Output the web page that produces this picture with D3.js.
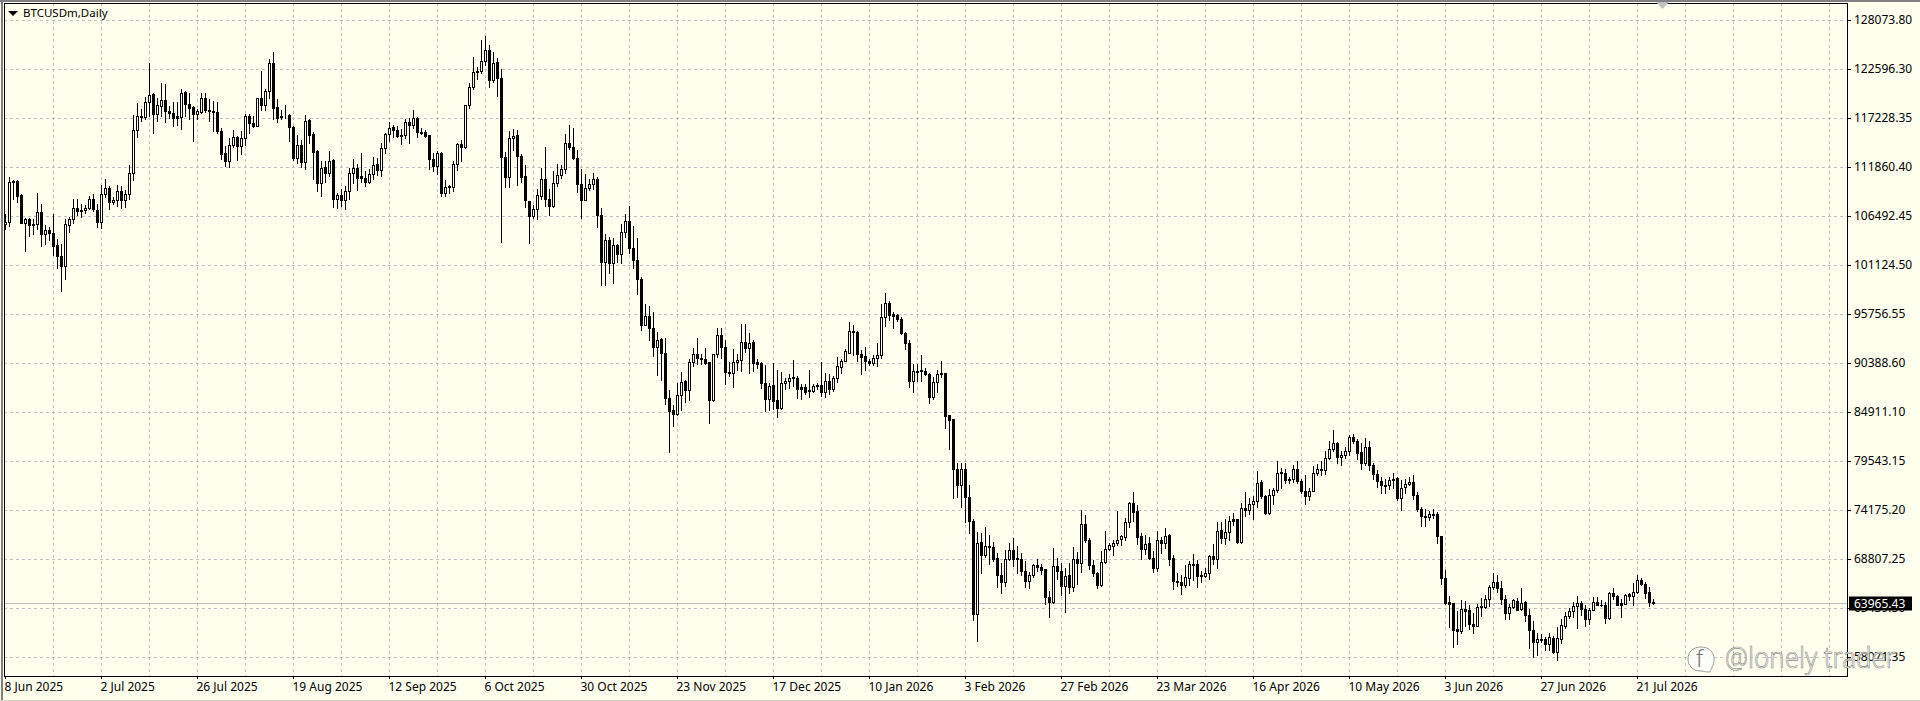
<!DOCTYPE html>
<html><head><meta charset="utf-8">
<script src="https://cdn.jsdelivr.net/npm/d3@7"></script>
<style>html,body{margin:0;padding:0;background:#ffffee;overflow:hidden}svg{display:block}text{font-family:"Noto Sans",sans-serif}</style>
</head><body><svg id="c" width="1920" height="701"></svg>
<script>
const symbolTitle = "BTCUSDm,Daily";
const priceTicks = [128073.80,122596.30,117228.35,111860.40,106492.45,101124.50,95756.55,90388.60,84911.10,79543.15,74175.20,68807.25,63439.30,58071.35];
const dateLabels = ["8 Jun 2025","2 Jul 2025","26 Jul 2025","19 Aug 2025","12 Sep 2025","6 Oct 2025","30 Oct 2025","23 Nov 2025","17 Dec 2025","10 Jan 2026","3 Feb 2026","27 Feb 2026","23 Mar 2026","16 Apr 2026","10 May 2026","3 Jun 2026","27 Jun 2026","21 Jul 2026"];
const lastPrice = 63965.43;
const opens = [105578,105797,110252,110252,108719,105724,106162,105615,105578,106929,
104483,104921,104629,103241,102109,100977,105505,106162,107331,107148,
107112,107331,108354,107148,105797,108901,109559,107988,108244,109230,
108244,108901,111202,115913,117447,117301,118908,119784,117593,118470,
119200,117995,117776,117338,117265,120004,118762,118360,117630,117849,
119419,118104,117995,117885,115804,113320,112444,114197,115146,114124,
115037,117447,116680,116315,119310,118652,120077,123254,118324,117446,
117373,117519,116241,112808,114269,112370,116935,115401,113539,110106,
111786,111165,112553,108353,108791,108243,109193,111201,111749,110800,
110654,110179,111092,112114,111494,113940,115474,116168,115912,115365,
115292,116789,116424,117154,115693,115693,115292,112735,111932,113320,
108974,109668,109668,112187,114342,114013,118578,120624,122340,122340,
123436,124677,121354,123290,121610,112954,110727,114999,115292,113064,
110800,108134,106454,107184,108645,110544,108353,107549,110106,110947,
111641,114489,114051,112846,109997,108244,109523,109961,110545,106601,
101415,103862,101306,103314,102292,104739,105944,102986,101671,99589,
94513,95536,94221,92103,92943,91482,86476,85023,84655,86811,
88302,87333,90496,91372,90934,90824,90423,86215,91372,93454,
92139,89382,89233,90496,90715,92687,92030,92614,90423,90314,
88152,86327,87854,86178,85321,88152,88376,88748,88637,87594,
87594,87296,87221,87892,87929,87109,88339,87407,88711,89941,
90607,91483,93894,93784,91374,91081,90607,90351,90899,91264,
95427,96961,95683,95573,95208,93674,92579,88338,89494,89531,
89494,89158,86513,88264,89195,89195,84473,84071,78666,76840,
78666,75598,72969,62744,70595,69207,70230,70121,68843,67053,
66249,68769,69792,68843,68806,67491,66358,66980,68075,67930,
67638,64643,64058,68039,67491,65811,66980,65701,68806,68367,
72641,70887,68148,67272,65921,68440,69902,70157,70486,70960,
71179,72823,74868,73991,71252,69865,70486,68915,67783,70887,
70486,71362,68842,66395,66286,65921,66724,68258,68185,66980,
66870,67235,69061,68769,71910,71033,71727,73115,73115,70668,
74393,74138,74795,75160,77169,75708,73772,75817,76365,78301,
78228,77534,77497,78666,77351,76256,75671,76219,78191,78666,
78520,79871,80857,81442,79944,80163,80638,82172,81734,80456,
79250,81076,79031,78118,77351,76913,76840,77570,77643,75452,
76657,76986,77242,75817,74284,73517,73371,73736,73663,71326,
66724,64095,63912,61063,60844,63328,63145,61684,61429,63583,
63510,64350,65701,66286,65628,64423,62853,63510,64204,63255,
64022,62670,61027,59676,60041,59968,59457,60150,58580,60004,
61429,62524,63072,63620,63985,63255,62196,63218,64095,63766,
63766,62269,65008,64752,63912,63875,64898,64752,65154,66505,
66067,65117,64095];
const closes = [105834,110216,110179,108646,105688,106162,105469,105469,106929,104483,
104921,104592,103168,102072,100977,105542,106162,107331,106966,107002,
107331,108354,107185,105797,108901,109559,107988,108244,109230,108244,
108901,111202,115913,117447,117301,118981,119748,117593,118543,119200,
117958,117739,117228,117191,119967,118689,118287,117630,117922,119419,
118068,117958,117849,115731,113247,112444,114270,115146,114124,115037,
117447,116680,116315,119310,118652,120077,123254,118287,117228,117264,
117446,116205,112772,114269,112370,116899,115328,113466,110106,111749,
111128,112516,108353,108791,108207,109193,111201,111749,110617,110617,
110179,111092,112041,111457,113940,115474,116132,115876,115219,115219,
116789,116424,117154,115657,115584,115219,112662,111932,113320,108937,
109668,109741,112187,114379,114013,118651,120624,122267,122230,123436,
124677,121354,123253,121573,112918,110727,115036,115255,113027,110690,
108170,106454,107257,108718,110544,108353,107549,110106,110982,111641,
114489,114015,112846,109961,108244,109559,109961,110545,106565,101415,
103862,101306,103314,102292,104739,105944,102949,101634,99553,94513,
95536,94184,92103,92906,91445,86401,84985,84655,86811,88264,
87333,90496,91372,90861,90824,90351,86215,91372,93454,92103,
89345,89233,90496,90715,92687,91957,92577,90351,90276,88115,
86327,87817,86140,85321,88152,88376,88711,88637,87445,87445,
87109,87147,87817,87817,87109,88339,87407,88711,90052,90607,
91629,93894,93747,91337,90972,90570,90351,90935,91264,95427,
96961,95573,95500,95135,93601,92579,88338,89419,89382,89456,
89084,86513,88264,89158,89121,84436,83998,78593,76840,78666,
75562,72933,62707,70559,69207,70230,70084,68806,66980,66249,
68806,69792,68806,68769,67419,66358,66980,68075,67930,67565,
64606,64058,68039,67491,65811,66907,65701,68806,68367,72641,
70851,68148,67272,65921,68440,69902,70267,70559,70887,71252,
72859,74868,73918,71179,69865,70449,68879,67783,70887,70522,
71326,68806,66359,66249,65921,66761,68258,68112,66870,66907,
67272,69061,68769,71873,71033,71764,72969,72932,70668,74393,
74138,74831,75160,77132,75635,73772,75817,76365,78228,78228,
77424,77388,78666,77278,76219,75635,76219,78228,78630,78520,
79871,80857,81442,79944,80200,80638,82172,81697,80382,79250,
81076,79031,78082,77315,76877,76803,77461,77461,75416,76584,
76986,77242,75781,74211,73480,73371,73736,73590,71289,66687,
63985,63839,60990,60844,63328,63072,61648,61429,63547,63510,
64423,65738,66249,65592,64350,62853,63547,64241,63218,63985,
62634,60990,59676,60041,59895,59457,60260,58580,60077,61538,
62524,63109,63656,63985,63255,62232,63218,64095,63729,63693,
62305,65008,64715,63729,63766,64825,64752,65154,66505,66030,
65081,64058,63965.43];
const highs = [106640,110764,110399,110400,108828,106235,106272,106162,109011,107806,
105432,105286,106637,103971,103350,106162,106382,108281,108354,107806,
107623,108646,108828,107733,109814,110545,109741,108500,109814,109741,
109303,112079,117484,118871,118141,119492,123254,119967,119419,120990,
120880,118506,118944,118944,120332,120150,119967,118506,118214,119894,
119894,119237,119054,118944,116059,114124,114964,115840,115219,115731,
117666,117666,117411,119310,122341,120332,123692,124496,119237,118031,
118578,117592,116314,115292,114780,117483,117118,115657,113685,112443,
112516,113539,112662,109010,109448,109741,111749,112662,112151,113393,
111347,111567,112954,112845,114415,115510,116752,116387,116314,115949,
117045,117227,118031,117337,116132,115876,115365,113393,113575,113466,
110398,109887,112516,114488,114780,118651,121062,123910,122815,125809,
126248,125262,124422,123801,122523,113466,115766,116022,115876,113210,
112005,108134,107622,109448,111749,114050,109375,111384,112151,111970,
115475,116388,116060,113649,111641,111093,110545,111203,110764,107295,
104519,104154,104081,103351,105542,106711,107514,105323,104081,99808,
96777,96631,95974,93783,93125,93125,87370,85656,88152,89308,
88488,90751,92030,93125,91299,92030,90496,91372,94221,94148,
92833,90423,91847,91372,94659,94586,93673,92833,90751,90460,
90127,88152,90388,89531,89382,88637,89084,90642,88935,88041,
88041,89606,87966,88115,90423,89270,89084,88898,91045,90826,
91848,94880,94478,93857,91775,92067,90826,91191,92506,96779,
97984,97180,95939,95719,95427,93747,92871,90239,90239,91191,
89792,89270,88823,89531,90534,89270,84582,84144,79324,79324,
79324,76913,73188,71728,71655,72239,71435,70632,69463,68367,
69755,70559,71070,70157,69463,68514,67345,68221,68733,68221,
67711,65263,70011,68915,68367,67783,68294,70121,69536,74138,
73626,71107,68660,67345,69609,71801,70559,70851,74028,71362,
73261,75014,76073,74722,71654,71362,71143,69609,71800,71143,
72129,71472,69171,67272,66980,68075,68587,69353,68623,67454,
67783,69171,70376,72823,72823,73188,73480,73845,73188,74941,
76146,75489,75671,78374,77424,75744,76475,76584,79543,78776,
78593,77790,79031,79543,77570,77936,76584,78958,79141,79469,
80602,81734,82866,81588,80602,81076,82391,82428,81880,81515,
82062,81734,79250,78520,77790,77497,77790,78155,77790,77424,
77497,77790,78009,76110,74503,74211,74028,74211,73918,71326,
67527,64715,63985,63072,64277,64168,63729,62889,63802,64460,
64788,65884,67272,66980,66395,64788,63802,64423,64533,65628,
64168,63255,61940,60698,60552,60260,60698,60333,61356,62159,
62962,63437,64058,64715,64168,63693,63437,64642,64569,64277,
64095,65154,65628,64861,64423,64898,65081,66176,66980,66687,
66249,65738,64350];
const lows = [104994,105359,108281,107988,105688,102620,104263,104446,104994,103168,
103350,103789,102145,100757,98238,99516,104702,105724,106528,106345,
106747,107185,107002,105213,105140,108573,107185,107733,107550,107368,
107441,108281,110399,115146,116899,117045,117338,115512,116863,117338,
116753,117228,116315,116425,115950,117411,117118,114672,117118,117703,
117849,116863,115767,115512,112663,111933,111859,114051,112590,113211,
114197,115585,116169,116315,118068,118068,119419,117118,116753,117118,
117227,114671,112553,112224,111859,111640,114488,110471,109156,108645,
110179,110836,107403,107330,107549,107184,108280,110106,109302,110179,
109741,110106,110544,110909,110836,113320,114671,115146,115109,114306,
115036,114488,116095,115146,115401,115146,111567,111384,111019,108645,
108645,109010,109193,111494,112480,113940,118286,120404,121427,122084,
122961,120624,121135,119601,103605,109595,109595,113685,109814,110179,
107403,103532,106271,106089,108280,107549,106527,107440,109741,110655,
111166,113832,112736,109084,106199,108171,109267,109450,105250,98895,
98895,100210,99114,101415,101306,104191,102401,100721,97873,93929,
94513,92833,91080,89009,88413,85805,80455,83304,84509,85060,
85954,86178,90015,90202,90276,90276,83669,86103,91007,90861,
87966,88860,87668,89531,89457,91518,89233,89457,89755,87519,
84985,85134,85172,84326,85172,87407,87519,87780,86401,86327,
86849,86551,87072,87371,86662,86551,86849,87221,88227,89270,
90534,91410,91264,90570,89121,89568,90164,90164,89978,90899,
94405,95062,94186,94916,93492,91848,87631,87109,88301,88301,
88972,85842,86289,87109,88748,83122,80784,75416,75525,74430,
72823,71582,62086,59785,67198,69025,68185,68550,65665,65008,
65811,68660,68003,67272,67053,65738,65592,66834,67418,67090,
63839,62415,63912,66542,64862,62962,65081,65227,65994,67345,
70632,67637,66907,65592,65811,68294,69756,69171,70339,70266,
70851,72239,72932,70376,68733,69317,68733,67345,67418,69463,
70011,68075,65482,65811,64935,65701,65884,66468,65665,66249,
66761,66541,68221,67746,70559,70376,70851,72458,70486,70559,
73480,73663,73188,74503,75452,73699,73663,74758,76110,76584,
77132,77059,77205,77132,76037,74795,75233,76183,78009,77936,
78045,79762,80602,79323,79068,79871,80127,81515,79762,78593,
79104,78520,77497,76621,75964,75964,76402,76584,75233,74138,
75964,76840,75379,73991,72385,72385,73005,73225,70486,65994,
63875,61283,59091,59420,60625,61429,61063,60625,61429,62524,
63401,63620,65446,65154,63875,62232,62232,63437,63182,63182,
61976,59018,58069,58215,59676,58799,58799,58507,57704,59530,
61209,62305,62378,61173,62597,61429,61611,63145,63693,63620,
61721,62159,64350,63693,62378,63802,64277,63693,65008,65921,
64533,63620,63802];

const svg = d3.select("#c");
const W = 1920, H = 701, L = 4, R = 1847, T = 3, B = 676;
const BG = "#ffffee", GRID = "#c0c0c0", FONT = '"Noto Sans",sans-serif';
const x = d3.scaleLinear().domain([0, 412]).range([5, 5 + 412 * 4]);
const y = d3.scaleLinear().domain(priceTicks).range(priceTicks.map((_, i) => 20 + 49 * i));
const px = p => Math.floor(y(p)) + 0.5;
const cx = i => x(i) + 0.5;

svg.append("rect").attr("width", W).attr("height", H).attr("fill", BG);
svg.append("rect").attr("width", W).attr("height", 2).attr("fill", "#808080");
svg.append("rect").attr("x", 1).attr("width", 2).attr("height", H).attr("fill", "#808080");
svg.append("rect").attr("y", H - 1).attr("width", W).attr("height", 1).attr("fill", "#d4d0c8");

// grid
const gridStyle = s => s.attr("stroke", GRID).attr("stroke-width", 1).attr("stroke-dasharray", "3 3");
svg.append("g").selectAll("line").data(priceTicks).join("line")
  .attr("x1", L).attr("x2", R).attr("y1", d => y(d) + .5).attr("y2", d => y(d) + .5).call(gridStyle);
svg.append("g").selectAll("line").data(d3.range(12, 457, 12)).join("line")
  .attr("y1", T).attr("y2", B).attr("x1", cx).attr("x2", cx).call(gridStyle);

// last price line
svg.append("line").attr("x1", L).attr("x2", R).attr("y1", px(lastPrice)).attr("y2", px(lastPrice))
  .attr("stroke", GRID).attr("stroke-width", 1);

// candles
const candles = svg.append("g").selectAll("g").data(d3.range(opens.length)).join("g");
candles.append("line").attr("x1", cx).attr("x2", cx)
  .attr("y1", i => Math.floor(y(highs[i]))).attr("y2", i => Math.floor(y(lows[i])) + 1)
  .attr("stroke", "#000").attr("stroke-width", 1);
candles.filter(i => closes[i] < opens[i]).append("rect")
  .attr("x", i => cx(i) - 1.5).attr("width", 3)
  .attr("y", i => Math.floor(y(opens[i])))
  .attr("height", i => Math.floor(y(closes[i])) - Math.floor(y(opens[i])) + 1)
  .attr("fill", "#000");
candles.filter(i => closes[i] >= opens[i]).append("rect")
  .attr("x", i => cx(i) - 1).attr("width", 2)
  .attr("y", i => px(closes[i]))
  .attr("height", i => Math.max(0, px(opens[i]) - px(closes[i])))
  .attr("fill", BG).attr("stroke", "#000").attr("stroke-width", 1);

// border
svg.append("rect").attr("x", L + .5).attr("y", T + .5).attr("width", R - L).attr("height", B - T)
  .attr("fill", "none").attr("stroke", "#000");

// axes
const yAxis = d3.axisRight(y).tickValues(priceTicks).tickFormat(d3.format(".2f")).tickSize(4).tickPadding(3);
const gy = svg.append("g").attr("transform", `translate(${R},0)`).call(yAxis);
const xAxis = d3.axisBottom(x).tickValues(dateLabels.map((_, i) => i * 24)).tickFormat(d => dateLabels[d / 24]).tickSize(3).tickPadding(3);
const gx = svg.append("g").attr("transform", `translate(0,${B})`).call(xAxis);
[gy, gx].forEach(g => { g.select(".domain").remove(); g.selectAll("text").attr("font-size", 12).attr("font-family", FONT).attr("fill", "#000"); g.selectAll("line").attr("stroke", "#000"); });
gx.selectAll("text").attr("text-anchor", "start").attr("x", -1).attr("y", 6).attr("dy", "0.71em");

// last price label
const ly = px(lastPrice);
svg.append("rect").attr("x", 1849).attr("y", ly - 7).attr("width", 63).attr("height", 14).attr("fill", "#000");
svg.append("text").attr("x", 1854).attr("y", ly).attr("dy", ".34em").attr("font-size", 12).attr("fill", "#fff").text(d3.format(".2f")(lastPrice));

// title
svg.append("path").attr("d", "M8 11H18L13 16Z").attr("fill", "#000");
svg.append("text").attr("x", 23).attr("y", 13.5).attr("dy", ".34em").attr("font-size", 11.5).attr("fill", "#000").text(symbolTitle);
// chart-shift marker
svg.append("path").attr("d", "M1656 2H1669L1662.5 9Z").attr("fill", "#c0c0c0");

// watermark
const wm = svg.append("g");
wm.append("path").attr("d", "M1701 647c8 0 13 5 13 12s-3 9-4 13c-5 0-6-1-9-1c-8 0-13-5-13-12s5-12 13-12Z").attr("fill", "#fff").attr("fill-opacity", .8).attr("stroke", "#9a9a9a").attr("stroke-width", 1);
wm.append("text").attr("x", 1696).attr("y", 667).attr("font-size", 23).attr("font-family", "Roboto").attr("font-weight", 300).attr("fill", "#777").text("f");
wm.append("text").attr("x", 1725).attr("y", 668).attr("font-size", 30).attr("font-family", "Roboto").attr("font-weight", 300)
  .attr("fill", "#fff").attr("fill-opacity", .85).attr("stroke", "#8c8c8c").attr("stroke-width", .7)
  .attr("textLength", 171).attr("lengthAdjust", "spacingAndGlyphs").text("@lonely trader");
</script></body></html>
